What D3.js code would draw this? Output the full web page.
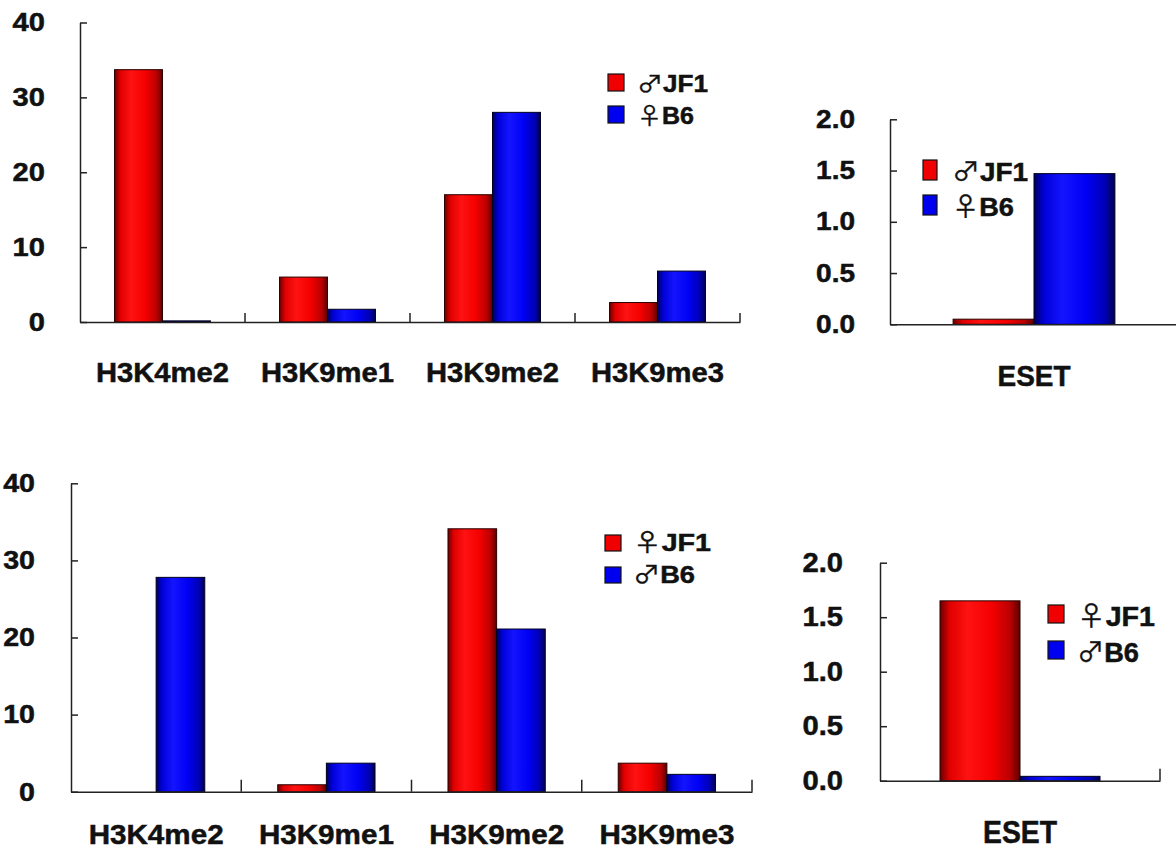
<!DOCTYPE html>
<html>
<head>
<meta charset="utf-8">
<script src="https://cdn.jsdelivr.net/npm/d3@7"></script>
<style>
  html, body { margin: 0; padding: 0; background: #ffffff; }
  svg { display: block; }
  text { font-family: "Liberation Sans", Arial, "DejaVu Sans", sans-serif; font-weight: bold; fill: #111; }
</style>
</head>
<body>
<svg id="chart" width="1176" height="851"></svg>
<script>
// ---------------- data ----------------
const categories = ["H3K4me2", "H3K9me1", "H3K9me2", "H3K9me3"];
const esetCategory = ["ESET"];

const topSeries = ["♂JF1", "♀B6"];
const topJF1 = [33.7, 6.0, 17.0, 2.6];
const topB6 = [0.15, 1.7, 28.0, 6.8];

const bottomSeries = ["♀JF1", "♂B6"];
const bottomJF1 = [0, 0.9, 34.1, 3.7];
const bottomB6 = [27.8, 3.7, 21.1, 2.25];

const topEsetJF1 = [0.05];
const topEsetB6 = [1.47];
const bottomEsetJF1 = [1.65];
const bottomEsetB6 = [0.04];

const histoneTicks = [0, 10, 20, 30, 40];
const esetTicks = [0, 0.5, 1.0, 1.5, 2.0];

// ---------------- drawing ----------------
const svg = d3.select("#chart");
svg.append("rect").attr("width", 1176).attr("height", 851).attr("fill", "#ffffff");

const defs = svg.append("defs");
function gradient(id, stops) {
  const g = defs.append("linearGradient").attr("id", id)
    .attr("x1", "0%").attr("x2", "100%").attr("y1", "0%").attr("y2", "0%");
  stops.forEach(([o, c]) => g.append("stop").attr("offset", o).attr("stop-color", c));
}
gradient("gRed", [["0%", "#6a0000"], ["12%", "#e00000"], ["35%", "#ff1212"], ["65%", "#f40000"], ["88%", "#b80000"], ["100%", "#5a0000"]]);
gradient("gBlue", [["0%", "#00005a"], ["12%", "#0000d8"], ["35%", "#1414ff"], ["65%", "#0000f4"], ["88%", "#0000b4"], ["100%", "#000050"]]);
const fills = ["url(#gRed)", "url(#gBlue)"];
const solid = ["#f00000", "#0000f0"];
const strokes = ["#2a0000", "#00001e"];

function styleText(sel, size) {
  sel.attr("font-size", size)
    .attr("font-family", "Liberation Sans, Arial, sans-serif")
    .attr("font-weight", "bold")
    .attr("fill", "#111")
    .attr("stroke", "#111")
    .attr("stroke-width", 0.5);
}

function panel(cfg) {
  const g = svg.append("g");
  const x = d3.scaleBand().domain(cfg.cats).range([cfg.x0, cfg.x1]).padding(0);
  const xs = d3.scaleBand().domain(cfg.series).range([0, x.bandwidth()])
    .paddingInner(0).paddingOuter(cfg.outerPad);
  const y = d3.scaleLinear().domain([0, cfg.max]).range([cfg.y0, cfg.yTop]);

  // bars
  cfg.series.forEach((s, si) => {
    g.selectAll(null).data(cfg.values[si]).enter().append("rect")
      .attr("x", (d, i) => x(cfg.cats[i]) + xs(s))
      .attr("width", xs.bandwidth())
      .attr("y", d => y(d))
      .attr("height", d => Math.max(0, y(0) - y(d)))
      .attr("fill", fills[si])
      .attr("stroke", d => d > 0 ? strokes[si] : "none")
      .attr("stroke-width", 1);
  });

  // y axis
  const ya = g.append("g").attr("transform", `translate(${cfg.x0},0)`)
    .call(d3.axisLeft(y).tickValues(cfg.ticks).tickSizeInner(-7).tickSizeOuter(0)
      .tickPadding(cfg.yPad).tickFormat(cfg.fmt));
  ya.selectAll("path,line").attr("stroke", "#222").attr("stroke-width", 1.5);
  const yt = ya.selectAll("text");
  styleText(yt, cfg.yFont);
  yt.attr("x", -cfg.yPad / cfg.ySx).attr("transform", `scale(${cfg.ySx},1)`);

  // x axis
  const xa = g.append("g").attr("transform", `translate(0,${cfg.y0})`)
    .call(d3.axisBottom(x).tickSize(0).tickPadding(cfg.xPad));
  xa.selectAll("path").attr("stroke", "#222").attr("stroke-width", 1.5);
  const xt = xa.selectAll("text");
  styleText(xt, cfg.xFont);
  xt.attr("textLength", cfg.xLen).attr("lengthAdjust", "spacingAndGlyphs");

  // category separator ticks (pointing up into plot)
  const seps = cfg.cats.slice(1).map(c => x(c)).concat(cfg.endTick ? [cfg.x1] : []);
  g.selectAll(null).data(seps).enter().append("line")
    .attr("x1", d => d).attr("x2", d => d)
    .attr("y1", cfg.y0).attr("y2", cfg.y0 - cfg.sepLen)
    .attr("stroke", "#222").attr("stroke-width", 1.5);

  // legend
  const L = cfg.legend;
  const lg = g.append("g");
  cfg.series.forEach((s, si) => {
    lg.append("rect")
      .attr("x", L.x).attr("y", L.y + si * L.dy)
      .attr("width", L.w).attr("height", L.h)
      .attr("fill", solid[si]).attr("stroke", "#111").attr("stroke-width", 1.2);
    const t = lg.append("text")
      .attr("x", L.tx).attr("y", L.y + si * L.dy + L.h + L.base)
      .attr("textLength", si === 0 ? L.len0 : L.len1)
      .attr("lengthAdjust", "spacingAndGlyphs");
    styleText(t, L.font);
    t.append("tspan")
      .attr("font-family", "Noto Sans CJK SC, DejaVu Sans, sans-serif")
      .attr("font-weight", "normal")
      .attr("stroke-width", 0.3)
      .text(s.slice(0, 1));
    t.append("tspan").text(s.slice(1));
  });
}

// top-left histone panel
panel({
  cats: categories, series: topSeries, values: [topJF1, topB6],
  x0: 80, x1: 740, y0: 322, yTop: 22.5, max: 40, outerPad: 0.72,
  ticks: histoneTicks, fmt: d3.format("d"), yPad: 35, yFont: 26, ySx: 1.12,
  xPad: 40, xFont: 28, xLen: 133, sepLen: 9, endTick: true,
  legend: { x: 608, y: 74, w: 16, h: 17, dy: 32, tx: 637, base: 1, font: 23, len0: 71, len1: 57 }
});

// top-right ESET panel
panel({
  cats: esetCategory, series: topSeries, values: [topEsetJF1, topEsetB6],
  x0: 890, x1: 1178, y0: 324.3, yTop: 119.3, max: 2, outerPad: 0.78,
  ticks: esetTicks, fmt: d3.format(".1f"), yPad: 35, yFont: 25, ySx: 1.12,
  xPad: 40, xFont: 30, xLen: 73, sepLen: 9, endTick: false,
  legend: { x: 923, y: 160, w: 14, h: 20, dy: 35, tx: 952, base: 1, font: 26, len0: 76, len1: 62 }
});

// bottom-left histone panel
panel({
  cats: categories, series: bottomSeries, values: [bottomJF1, bottomB6],
  x0: 71, x1: 752, y0: 791.7, yTop: 483.3, max: 40, outerPad: 0.75,
  ticks: histoneTicks, fmt: d3.format("d"), yPad: 36, yFont: 26, ySx: 1.1,
  xPad: 32, xFont: 28, xLen: 135, sepLen: 12, endTick: true,
  legend: { x: 605, y: 535, w: 16, h: 16, dy: 32, tx: 633, base: 0, font: 24, len0: 78, len1: 62 }
});

// bottom-right ESET panel
panel({
  cats: esetCategory, series: bottomSeries, values: [bottomEsetJF1, bottomEsetB6],
  x0: 880, x1: 1160, y0: 780.7, yTop: 562.7, max: 2, outerPad: 0.75,
  ticks: esetTicks, fmt: d3.format(".1f"), yPad: 37, yFont: 27, ySx: 1.08,
  xPad: 40, xFont: 31, xLen: 74, sepLen: 12, endTick: true,
  legend: { x: 1048, y: 605, w: 16, h: 18, dy: 36, tx: 1077, base: 3, font: 27, len0: 78, len1: 62 }
});
</script>
</body>
</html>
